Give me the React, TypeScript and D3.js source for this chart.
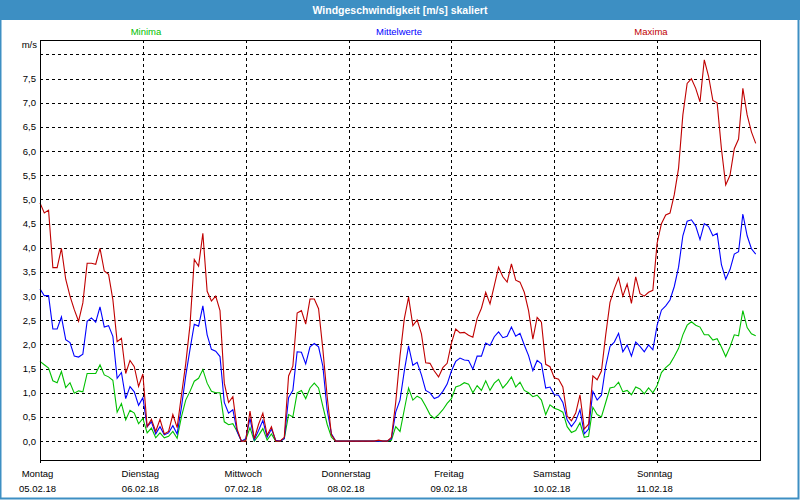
import React from "react";
import * as d3 from "d3";

const title = "Windgeschwindigkeit [m/s] skaliert";
const seriesNames = ["Minima", "Mittelwerte", "Maxima"];
const seriesColors = ["#00c000", "#0000ff", "#c00000"];
const dayNames = ["Montag", "Dienstag", "Mittwoch", "Donnerstag", "Freitag", "Samstag", "Sonntag"];
const dayDates = ["05.02.18", "06.02.18", "07.02.18", "08.02.18", "09.02.18", "10.02.18", "11.02.18"];
const yTicks = [0, 0.5, 1, 1.5, 2, 2.5, 3, 3.5, 4, 4.5, 5, 5.5, 6, 6.5, 7, 7.5];
const yGrid = [0, 0.5, 1, 1.5, 2, 2.5, 3, 3.5, 4, 4.5, 5, 5.5, 6, 6.5, 7, 7.5, 8];
const unitLabel = "m/s";

// hourly values, 168 hours (7 days)
const maxima = [
  4.93, 4.72, 4.78, 3.59, 3.59, 3.99, 3.35, 3.0, 2.72, 2.48,
  2.86, 3.68, 3.68, 3.66, 3.99, 3.52, 3.45, 2.93, 2.06, 2.13,
  1.4, 1.67, 1.54, 1.13, 1.39, 0.3, 0.45, 0.2, 0.45, 0.15,
  0.2, 0.55, 0.28, 0.95, 1.6, 2.4, 3.76, 3.62, 4.3, 3.1,
  2.9, 3.0, 2.7, 1.2, 0.8, 0.92, 0.25, 0.0, 0.0, 0.62,
  0.05, 0.35, 0.58, 0.12, 0.3, 0.0, 0.0, 0.08, 1.35, 1.55,
  2.65, 2.7, 2.42, 2.94, 2.94, 2.74, 1.9, 0.93, 0.13, 0.0,
  0, 0, 0, 0, 0, 0, 0, 0, 0, 0.02,
  0, 0, 0.08, 0.8, 1.76, 2.53, 2.98, 2.39, 2.51, 2.22,
  1.62, 1.61, 1.45, 1.33, 1.52, 1.61, 2.03, 2.32, 2.24, 2.25,
  2.19, 2.15, 2.54, 2.75, 3.08, 2.84, 3.22, 3.6, 3.4, 3.29,
  3.67, 3.33, 3.29, 3.08, 2.7, 2.11, 2.56, 2.46, 1.59, 1.54,
  1.31, 1.28, 1.12, 0.52, 0.42, 0.58, 0.96, 0.25, 0.35, 1.35,
  1.27, 1.45, 2.2, 2.87, 3.15, 3.38, 3.0, 3.25, 2.85, 3.4,
  3.05, 3.0, 3.08, 3.12, 4.1, 4.5, 4.68, 4.72, 5.1, 5.65,
  6.75, 7.4, 7.5, 7.3, 7.02, 7.89, 7.55, 7.05, 7.0, 6.05,
  5.3, 5.5, 6.05, 6.25, 7.3, 6.75, 6.4, 6.16,
];

const mittel = [
  3.15, 3.01, 3.01, 2.32, 2.32, 2.57, 2.1, 2.04, 1.76, 1.74,
  1.8, 2.48, 2.55, 2.46, 2.78, 2.36, 2.39, 2.17, 1.3, 1.42,
  0.88, 1.13, 1.02, 0.74, 0.9, 0.3, 0.4, 0.15, 0.3, 0.13,
  0.17, 0.32, 0.15, 0.7, 1.35, 1.9, 2.42, 2.38, 2.8, 2.2,
  1.9, 1.86, 1.75, 0.8, 0.58, 0.65, 0.2, 0.0, 0.05, 0.47,
  0.03, 0.22, 0.43, 0.08, 0.25, 0.02, 0.0, 0.05, 0.9, 1.05,
  1.85, 1.84, 1.6, 1.95, 2.02, 1.95, 1.55, 0.65, 0.15, 0.0,
  0, 0, 0, 0, 0, 0, 0, 0, 0, 0,
  0, 0, 0.05, 0.6, 0.85, 1.45, 1.97, 1.57, 1.63, 1.37,
  1.05, 1.0, 0.88, 0.92, 1.03, 1.18, 1.45, 1.65, 1.72, 1.68,
  1.67, 1.49, 1.76, 1.76, 2.03, 1.98, 2.16, 2.26, 2.14, 2.17,
  2.36, 2.17, 2.23, 1.99, 1.77, 1.46, 1.67, 1.6, 1.1, 1.12,
  0.96, 0.95, 0.8, 0.44, 0.3, 0.42, 0.65, 0.15, 0.25, 1.03,
  0.85, 0.95, 1.55, 1.96, 2.05, 2.23, 1.85, 1.99, 1.76, 2.05,
  1.96, 1.85, 1.99, 1.89, 2.4, 2.71, 2.8, 2.92, 3.2, 3.6,
  4.25, 4.55, 4.58, 4.45, 4.17, 4.5, 4.44, 4.25, 4.3, 3.65,
  3.35, 3.55, 3.87, 3.92, 4.7, 4.25, 3.98, 3.87,
];

const minima = [
  1.65, 1.58, 1.51, 1.25, 1.21, 1.44, 1.11, 1.21, 0.99, 1.04,
  1.02, 1.4, 1.4, 1.4, 1.58, 1.37, 1.33, 1.26, 0.6, 0.78,
  0.44, 0.64, 0.58, 0.36, 0.47, 0.17, 0.27, 0.07, 0.17, 0.07,
  0.1, 0.2, 0.06, 0.5, 0.85, 1.03, 1.24, 1.3, 1.48, 1.2,
  1.03, 1.0, 1.0, 0.4, 0.34, 0.36, 0.2, 0.0, 0.03, 0.28,
  0.0, 0.12, 0.26, 0.02, 0.15, 0.0, 0.0, 0.05, 0.55, 0.5,
  1.0, 1.05, 0.88, 1.1, 1.2, 1.1, 0.72, 0.35, 0.08, 0.0,
  0, 0, 0, 0, 0, 0, 0, 0, 0, 0,
  0, 0, 0.02, 0.3, 0.2, 0.65, 1.1, 0.85, 0.93, 0.88,
  0.72, 0.55, 0.47, 0.55, 0.65, 0.78, 0.88, 1.12, 1.15, 1.21,
  1.18, 1.0, 1.15, 1.05, 1.25, 1.05, 1.2, 1.28, 1.1, 1.2,
  1.33, 1.12, 1.22, 1.05, 1.0, 0.92, 0.95, 0.85, 0.55, 0.75,
  0.68, 0.65, 0.6, 0.3, 0.18, 0.22, 0.38, 0.08, 0.1, 0.7,
  0.55, 0.5, 0.8, 1.1, 1.12, 1.22, 1.02, 1.05, 0.96, 1.12,
  1.08, 0.98, 1.1, 1.0, 1.15, 1.42, 1.52, 1.6, 1.75, 1.92,
  2.2, 2.4, 2.47, 2.4, 2.36, 2.2, 2.2, 2.09, 2.12, 1.95,
  1.75, 1.95, 2.2, 2.18, 2.7, 2.35, 2.22, 2.18,
];

const W = 800;
const H = 500;
const left = 40;
const right = 760;
const top = 40;
const bottom = 460;
const font = "'Liberation Sans', Arial, sans-serif";
const fontSize = 9.5;
const frameBlue = "#3d8fc3";

export default function App() {
  const x = d3.scaleLinear().domain([0, 168]).range([left, right]);
  const y = d3.scaleLinear().domain([-0.39, 8.3]).range([bottom, top]);
  const line = d3
    .line<number>()
    .x((_, i) => x(i))
    .y((d) => y(d));
  const series = [minima, mittel, maxima];
  const legendX = [146, 399, 651];
  const fmt = (v: number) => d3.format(".1f")(v).replace(".", ",");
  const snap = (v: number) => Math.round(v) + 0.5;

  return (
    <svg
      width={W}
      height={H}
      style={{ position: "absolute", left: 0, top: 0, display: "block" }}
      fontFamily={font}
    >
      <rect x={0} y={0} width={W} height={H} fill="#ffffff" />
      {/* outer frame */}
      <rect x={0.5} y={0.5} width={W - 2} height={H - 2} fill="none" stroke={frameBlue} strokeWidth={2} />
      <rect x={0} y={0} width={W} height={20} fill={frameBlue} />
      <text x={400} y={14} textAnchor="middle" fill="#ffffff" fontSize={10.5} fontWeight="bold">
        {title}
      </text>

      {/* legend */}
      {seriesNames.map((n, i) => (
        <text key={n} x={legendX[i]} y={35} textAnchor="middle" fill={seriesColors[i]} fontSize={fontSize}>
          {n}
        </text>
      ))}

      {/* horizontal grid */}
      {yGrid.map((v) => (
        <line
          key={"h" + v}
          x1={left}
          x2={right}
          y1={snap(y(v))}
          y2={snap(y(v))}
          stroke="#000"
          strokeWidth={1}
          strokeDasharray="3,3"
          shapeRendering="crispEdges"
        />
      ))}
      {/* vertical day grid */}
      {dayNames.map((d, i) =>
        i === 0 ? null : (
          <line
            key={"v" + d}
            x1={snap(x(i * 24))}
            x2={snap(x(i * 24))}
            y1={top}
            y2={bottom + 3}
            stroke="#000"
            strokeWidth={1}
            strokeDasharray="3,3"
            shapeRendering="crispEdges"
          />
        )
      )}

      {/* y labels */}
      {yTicks.map((v) => (
        <text key={"t" + v} x={36} y={y(v) + 3.5} textAnchor="end" fill="#000" fontSize={fontSize}>
          {fmt(v)}
        </text>
      ))}
      <text x={37} y={48} textAnchor="end" fill="#000" fontSize={fontSize}>
        {unitLabel}
      </text>

      {/* x labels */}
      {dayNames.map((d, i) => (
        <g key={"x" + d}>
          <text x={x(i * 24) - 2.5} y={477} textAnchor="middle" fill="#000" fontSize={fontSize}>
            {d}
          </text>
          <text x={x(i * 24) - 2.5} y={492} textAnchor="middle" fill="#000" fontSize={fontSize}>
            {dayDates[i]}
          </text>
        </g>
      ))}

      {/* series lines */}
      {series.map((s, i) => (
        <path key={"s" + i} d={line(s) || ""} fill="none" stroke={seriesColors[i]} strokeWidth={1.1} />
      ))}

      {/* plot frame */}
      <rect
        x={left + 0.5}
        y={top + 0.5}
        width={right - left}
        height={bottom - top}
        fill="none"
        stroke="#000"
        strokeWidth={1}
        shapeRendering="crispEdges"
      />
      <line x1={left + 0.5} x2={left + 0.5} y1={bottom} y2={bottom + 3} stroke="#000" shapeRendering="crispEdges" />
    </svg>
  );
}
